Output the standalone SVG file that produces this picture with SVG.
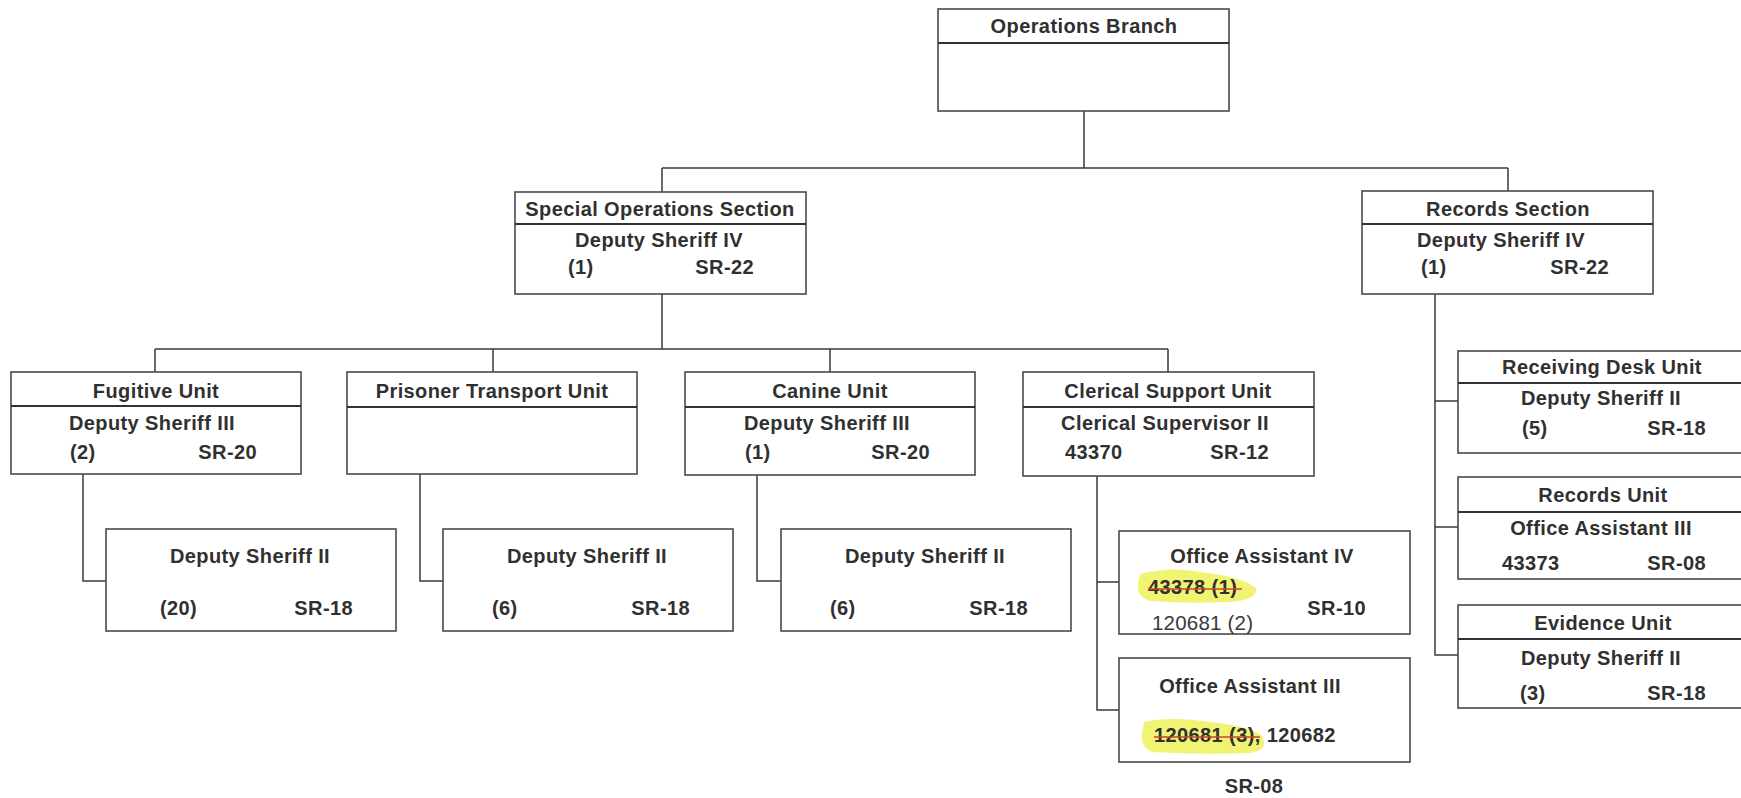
<svg xmlns="http://www.w3.org/2000/svg" width="1741" height="798" viewBox="0 0 1741 798">
<style>
.box{fill:#fff;stroke:#4a4a4a;stroke-width:1.6}
.div{stroke:#333;stroke-width:1.8}
.ln{fill:none;stroke:#3a3a3a;stroke-width:1.5}
text{font-family:"Liberation Sans",Arial,sans-serif;font-size:20px;font-weight:bold;fill:#303030;letter-spacing:0.4px}
.c{text-anchor:middle}
.e{text-anchor:end}
.thin{font-weight:normal;fill:#3a3a3a;font-size:20.5px;letter-spacing:0.2px}
.hl{fill:#eef25a;opacity:0.85}
.st{stroke:#c8452c;stroke-width:1.6}
</style>
<rect width="1741" height="798" fill="#fff"/>
<g id="connectors">
<path class="ln" d="M1084 111V168M662 168H1508M662 168V192M1508 168V191"/>
<path class="ln" d="M662 294V349M155 349H1168M155 349V372M493 349V372M830 349V372M1168 349V372"/>
<path class="ln" d="M83 474V581H106M420 474V581H443M757 475V581H781M1097 476V710H1119M1097 582H1119"/>
<path class="ln" d="M1435 294V655H1458M1435 401H1458M1435 527H1458"/>
</g>
<g id="operations-branch">
<rect class="box" x="938" y="9" width="291" height="102"/>
<line class="div" x1="938" y1="43" x2="1229" y2="43"/>
<text class="c" x="1084" y="33">Operations Branch</text>
</g>
<g id="special-operations">
<rect class="box" x="515" y="192" width="291" height="102"/>
<line class="div" x1="515" y1="224" x2="806" y2="224"/>
<text class="c" x="660" y="216">Special Operations Section</text>
<text class="c" x="659" y="247">Deputy Sheriff IV</text>
<text x="568" y="274">(1)</text>
<text class="e" x="754" y="274">SR-22</text>
</g>
<g id="records-section">
<rect class="box" x="1362" y="191" width="291" height="103"/>
<line class="div" x1="1362" y1="224" x2="1653" y2="224"/>
<text class="c" x="1508" y="216">Records Section</text>
<text class="c" x="1501" y="247">Deputy Sheriff IV</text>
<text x="1421" y="274">(1)</text>
<text class="e" x="1609" y="274">SR-22</text>
</g>
<g id="fugitive-unit">
<rect class="box" x="11" y="372" width="290" height="102"/>
<line class="div" x1="11" y1="406" x2="301" y2="406"/>
<text class="c" x="156" y="398">Fugitive Unit</text>
<text class="c" x="152" y="430">Deputy Sheriff III</text>
<text x="70" y="459">(2)</text>
<text class="e" x="257" y="459">SR-20</text>
</g>
<g id="prisoner-transport-unit">
<rect class="box" x="347" y="372" width="290" height="102"/>
<line class="div" x1="347" y1="407" x2="637" y2="407"/>
<text class="c" x="492" y="398">Prisoner Transport Unit</text>
</g>
<g id="canine-unit">
<rect class="box" x="685" y="372" width="290" height="103"/>
<line class="div" x1="685" y1="407" x2="975" y2="407"/>
<text class="c" x="830" y="398">Canine Unit</text>
<text class="c" x="827" y="430">Deputy Sheriff III</text>
<text x="745" y="459">(1)</text>
<text class="e" x="930" y="459">SR-20</text>
</g>
<g id="clerical-support-unit">
<rect class="box" x="1023" y="372" width="291" height="104"/>
<line class="div" x1="1023" y1="407" x2="1314" y2="407"/>
<text class="c" x="1168" y="398">Clerical Support Unit</text>
<text class="c" x="1165" y="430">Clerical Supervisor II</text>
<text x="1065" y="459">43370</text>
<text class="e" x="1269" y="459">SR-12</text>
</g>
<g id="fugitive-deputies">
<rect class="box" x="106" y="529" width="290" height="102"/>
<text class="c" x="250" y="563">Deputy Sheriff II</text>
<text x="160" y="615">(20)</text>
<text class="e" x="353" y="615">SR-18</text>
</g>
<g id="prisoner-deputies">
<rect class="box" x="443" y="529" width="290" height="102"/>
<text class="c" x="587" y="563">Deputy Sheriff II</text>
<text x="492" y="615">(6)</text>
<text class="e" x="690" y="615">SR-18</text>
</g>
<g id="canine-deputies">
<rect class="box" x="781" y="529" width="290" height="102"/>
<text class="c" x="925" y="563">Deputy Sheriff II</text>
<text x="830" y="615">(6)</text>
<text class="e" x="1028" y="615">SR-18</text>
</g>
<g id="office-assistant-iv">
<rect class="box" x="1119" y="531" width="291" height="103"/>
<text class="c" x="1262" y="563">Office Assistant IV</text>
<path class="hl" d="M1140 574Q1170 566 1200 572Q1240 576 1256 588Q1258 600 1230 602Q1190 604 1150 601Q1136 596 1138 584Z"/>
<text x="1148" y="594">43378 (1)</text>
<line class="st" x1="1148" y1="589" x2="1242" y2="589"/>
<text class="e" x="1366" y="615">SR-10</text>
<text class="thin" x="1152" y="630">120681 (2)</text>
</g>
<g id="office-assistant-iii">
<rect class="box" x="1119" y="658" width="291" height="104"/>
<text class="c" x="1250" y="693">Office Assistant III</text>
<path class="hl" d="M1144 722Q1170 716 1210 722Q1250 726 1262 736Q1270 750 1250 753Q1200 755 1152 752Q1140 746 1142 734Z"/>
<text x="1154" y="742">120681 (3), 120682</text>
<line class="st" x1="1154" y1="737" x2="1260" y2="737"/>
<text class="c" x="1254" y="793">SR-08</text>
</g>
<g id="receiving-desk-unit">
<rect class="box" x="1458" y="351" width="291" height="102"/>
<line class="div" x1="1458" y1="383" x2="1749" y2="383"/>
<text class="c" x="1602" y="374">Receiving Desk Unit</text>
<text class="c" x="1601" y="405">Deputy Sheriff II</text>
<text x="1522" y="435">(5)</text>
<text class="e" x="1706" y="435">SR-18</text>
</g>
<g id="records-unit">
<rect class="box" x="1458" y="477" width="291" height="102"/>
<line class="div" x1="1458" y1="512" x2="1749" y2="512"/>
<text class="c" x="1603" y="502">Records Unit</text>
<text class="c" x="1601" y="535">Office Assistant III</text>
<text x="1502" y="570">43373</text>
<text class="e" x="1706" y="570">SR-08</text>
</g>
<g id="evidence-unit">
<rect class="box" x="1458" y="605" width="291" height="103"/>
<line class="div" x1="1458" y1="639" x2="1749" y2="639"/>
<text class="c" x="1603" y="630">Evidence Unit</text>
<text class="c" x="1601" y="665">Deputy Sheriff II</text>
<text x="1520" y="700">(3)</text>
<text class="e" x="1706" y="700">SR-18</text>
</g>
</svg>
